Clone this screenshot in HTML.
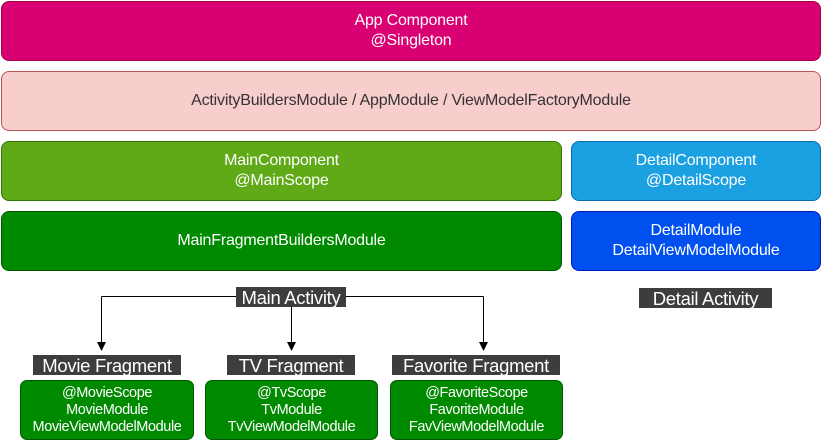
<!DOCTYPE html>
<html><head><style>
body{margin:0;width:822px;height:442px;background:#fff;position:relative;font-family:"Liberation Sans",sans-serif;overflow:hidden}
.b{position:absolute;box-sizing:border-box;border-radius:8px;display:flex;align-items:center;justify-content:center;text-align:center;color:#fff;font-size:16px;line-height:20px;border:1px solid;letter-spacing:-0.2px}
.s{position:absolute;background:#3d3d3d;color:#fff;font-size:18.5px;line-height:21px;text-align:center;height:20px;overflow:hidden;letter-spacing:-0.3px;white-space:nowrap}
.g{position:absolute;box-sizing:border-box;border-radius:7px;background:#008a00;border:1px solid #005700;color:#fff;font-size:14.5px;line-height:17px;text-align:center;padding-top:4px;letter-spacing:-0.4px;white-space:nowrap}
</style></head><body>
<div class="b" style="left:1px;top:1px;width:820px;height:60px;background:#d80073;border-color:#a50040">App Component<br>@Singleton</div>
<div class="b" style="left:1px;top:71px;width:820px;height:60px;background:#f8cecc;border-color:#b85450;color:#333">ActivityBuildersModule / AppModule / ViewModelFactoryModule</div>
<div class="b" style="left:1px;top:141px;width:561px;height:60px;background:#60a917;border-color:#2d7600">MainComponent<br>@MainScope</div>
<div class="b" style="left:571px;top:141px;width:250px;height:60px;background:#1ba1e2;border-color:#006eaf">DetailComponent<br>@DetailScope</div>
<div class="b" style="left:1px;top:211px;width:561px;height:60px;background:#008a00;border-color:#005700">MainFragmentBuildersModule</div>
<div class="b" style="left:571px;top:211px;width:250px;height:60px;background:#0050ef;border-color:#001dbc">DetailModule<br>DetailViewModelModule</div>
<svg style="position:absolute;left:0;top:0" width="822" height="442">
<g stroke="#000" stroke-width="1" fill="none">
<path d="M101.5 296.5H483.5M101.5 296.5V343M291.5 300V343M483.5 296.5V343"/>
</g>
<g fill="#000">
<path d="M97 342L101.5 351L106 342Z"/><path d="M287 342L291.5 351L296 342Z"/><path d="M479 342L483.5 351L488 342Z"/>
</g>
</svg>
<div class="s" style="left:236px;top:287px;width:110px">Main Activity</div>
<div class="s" style="left:639px;top:288px;width:133px;line-height:22px">Detail Activity</div>
<div class="s" style="left:33px;top:355px;width:148px">Movie Fragment</div>
<div class="s" style="left:227px;top:355px;width:128px">TV Fragment</div>
<div class="s" style="left:392px;top:355px;width:168px">Favorite Fragment</div>
<div class="g" style="left:20px;top:380px;width:174px;height:60px">@MovieScope<br>MovieModule<br>MovieViewModelModule</div>
<div class="g" style="left:205px;top:380px;width:173px;height:60px">@TvScope<br>TvModule<br>TvViewModelModule</div>
<div class="g" style="left:390px;top:380px;width:173px;height:60px">@FavoriteScope<br>FavoriteModule<br>FavViewModelModule</div>
</body></html>
